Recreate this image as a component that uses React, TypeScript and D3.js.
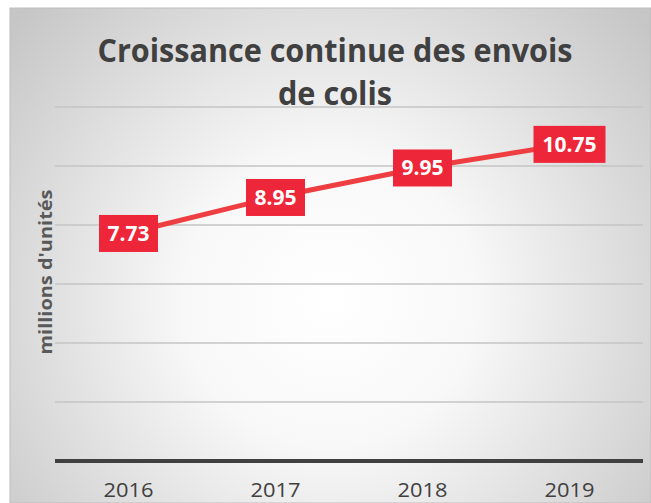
import React from "react";
import * as d3 from "d3";

const years = ["2016", "2017", "2018", "2019"];
const values = [7.73, 8.95, 9.95, 10.75];
const yTicks = [0, 2, 4, 6, 8, 10, 12];
const titleLines = ["Croissance continue des envois", "de colis"];
const yTitle = "millions d'unités";

export default function App() {
  const W = 651, H = 503;
  const x = d3.scaleBand<string>().domain(years).range([55, 643]);
  const y = d3.scaleLinear().domain([0, 12]).range([461, 107]);
  const pts = years.map((yr, i) => [x(yr)! + x.bandwidth() / 2, y(values[i])] as [number, number]);
  const line = d3.line()(pts) || "";
  const font = "'Open Sans', 'Liberation Sans', sans-serif";
  const titleLens = [475, 114];
  return (
    <svg width={W} height={H} style={{ position: "absolute", left: 0, top: 0, display: "block" }}>
      <defs>
        <radialGradient id="bg" cx="330" cy="300" r="420" gradientUnits="userSpaceOnUse">
          <stop offset="0" stopColor="#ffffff" />
          <stop offset="0.35" stopColor="#f8f8f8" />
          <stop offset="1" stopColor="#c6c6c6" />
        </radialGradient>
      </defs>
      <rect x={0} y={0} width={W} height={H} fill="#ffffff" />
      <rect x={10} y={8} width={W - 10} height={H - 8} fill="url(#bg)" stroke="#bdbdbd" strokeWidth={1} />
      {yTicks.filter((t) => t > 0).map((t) => (
        <line key={t} x1={55} x2={643} y1={y(t)} y2={y(t)} stroke="#c4c4c4" strokeWidth={1.5} />
      ))}
      <line x1={55} x2={643} y1={y(0)} y2={y(0)} stroke="#404040" strokeWidth={4} />
      {titleLines.map((t, i) => (
        <text key={i} x={335} y={62 + i * 43} textAnchor="middle" fontFamily={font} fontWeight={700}
          fontSize={32} fill="#404040" textLength={titleLens[i]} lengthAdjust="spacingAndGlyphs">{t}</text>
      ))}
      <text transform={`translate(52,272) rotate(-90)`} textAnchor="middle" fontFamily={font}
        fontWeight={700} fontSize={18} fill="#595959" textLength={165} lengthAdjust="spacingAndGlyphs">{yTitle}</text>
      {years.map((yr) => (
        <text key={yr} x={x(yr)! + x.bandwidth() / 2} y={497} textAnchor="middle" fontFamily={font}
          fontSize={20} fill="#404040" textLength={50} lengthAdjust="spacingAndGlyphs">{yr}</text>
      ))}
      <path d={line} fill="none" stroke="#ee3e42" strokeWidth={5} strokeLinecap="round" />
      {pts.map(([px, py], i) => {
        const label = values[i].toFixed(2);
        const bw = label.length > 4 ? 72 : 59;
        return (
          <g key={i}>
            <rect x={px - bw / 2} y={py - 18} width={bw} height={37} fill="#ee2639" />
            <text x={px} y={py + 8} textAnchor="middle" fontFamily={font} fontWeight={700}
              fontSize={21} fill="#ffffff">{label}</text>
          </g>
        );
      })}
    </svg>
  );
}
